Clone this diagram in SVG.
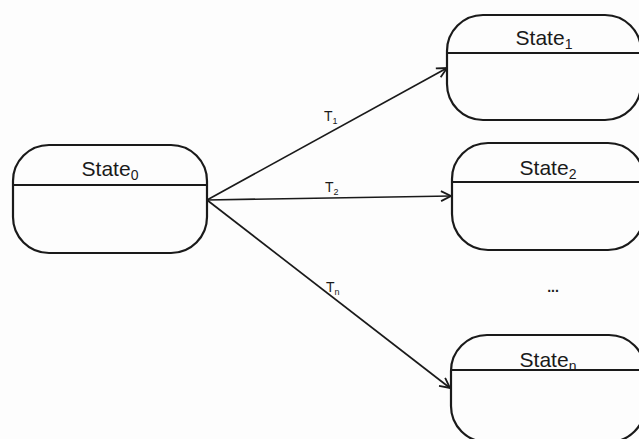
<svg xmlns="http://www.w3.org/2000/svg" width="639" height="439" viewBox="0 0 639 439">
  <style>
    .box { fill: none; stroke: #1a1a1a; stroke-width: 2.2; }
    .div { stroke: #1a1a1a; stroke-width: 2.2; }
    .name { font-family: "Liberation Sans", Arial, sans-serif; font-size: 21px; fill: #1a1a1a; text-anchor: middle; }
    .sub { font-size: 14px; }
    .edge { stroke: #1a1a1a; stroke-width: 1.7; fill: none; marker-end: url(#open); }
    .lbl { font-family: "Liberation Sans", Arial, sans-serif; font-size: 14px; fill: #1a1a1a; }
    .lsub { font-size: 9px; }
  </style>
  <defs>
    <marker id="open" viewBox="0 0 12 12" refX="11" refY="6" markerWidth="12" markerHeight="12" markerUnits="userSpaceOnUse" orient="auto">
      <path d="M1,1 L11,6 L1,11" fill="none" stroke="#1a1a1a" stroke-width="1.8"/>
    </marker>
  </defs>
  <rect width="639" height="439" fill="#fdfdfd"/>

  <!-- transitions -->
  <g id="connectors">
    <line class="edge" x1="207" y1="200" x2="447" y2="68"/>
    <line class="edge" x1="207" y1="200" x2="451" y2="196"/>
    <line class="edge" x1="207" y1="200" x2="450" y2="388"/>
    <text class="lbl" x="324" y="121">T<tspan class="lsub" dy="3">1</tspan></text>
    <text class="lbl" x="325" y="192">T<tspan class="lsub" dy="3">2</tspan></text>
    <text class="lbl" x="326" y="292">T<tspan class="lsub" dy="3">n</tspan></text>
  </g>

  <g id="state0">
    <rect class="box" x="13" y="145" width="194" height="108" rx="36" ry="36"/>
    <line class="div" x1="13" y1="185" x2="207" y2="185"/>
    <text class="name" x="110" y="176">State<tspan class="sub" dy="4">0</tspan></text>
  </g>

  <g id="state1">
    <rect class="box" x="447" y="15" width="194" height="105" rx="36" ry="36"/>
    <line class="div" x1="447" y1="53" x2="641" y2="53"/>
    <text class="name" x="544" y="45">State<tspan class="sub" dy="4">1</tspan></text>
  </g>

  <g id="state2">
    <rect class="box" x="452" y="143" width="192" height="107" rx="36" ry="36"/>
    <line class="div" x1="452" y1="182" x2="644" y2="182"/>
    <text class="name" x="548" y="175">State<tspan class="sub" dy="4">2</tspan></text>
  </g>

  <g id="ellipsis">
    <text class="lbl" x="553" y="292" text-anchor="middle" font-weight="bold">...</text>
  </g>

  <g id="stateN">
    <rect class="box" x="451" y="335" width="194" height="107" rx="36" ry="36"/>
    <line class="div" x1="451" y1="370" x2="645" y2="370"/>
    <text class="name" x="548" y="367">State<tspan class="sub" dy="4">n</tspan></text>
  </g>
</svg>
